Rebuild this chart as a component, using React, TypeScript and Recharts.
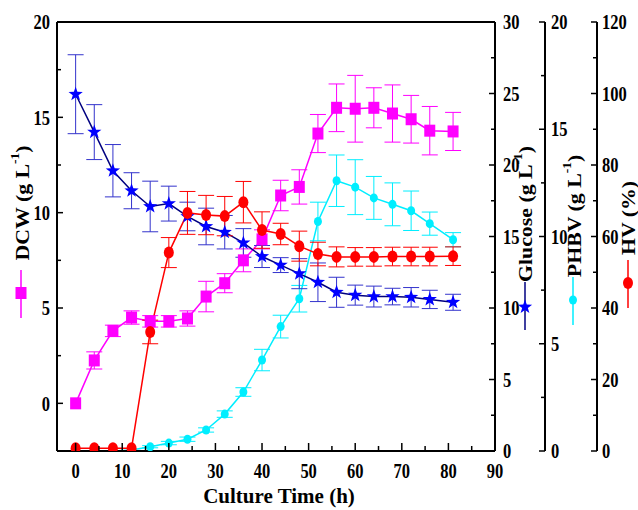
import React from "react";
import {
  ComposedChart,
  Line,
  XAxis,
  YAxis,
  ErrorBar,
  ReferenceLine,
} from "recharts";

const times = [0, 4, 8, 12, 16, 20, 24, 28, 32, 36, 40, 44, 48, 52, 56, 60, 64, 68, 72, 76, 81];
const dcw = [0, 2.25, 3.8, 4.5, 4.3, 4.3, 4.45, 5.6, 6.3, 7.5, 8.6, 10.9, 11.35, 14.15, 15.5, 15.45, 15.5, 15.2, 14.9, 14.3, 14.26];
const dcwErr = [0, 0.45, 0.3, 0.35, 0.3, 0.3, 0.4, 0.8, 0.5, 0.6, 0.5, 0.8, 0.9, 1.0, 1.25, 1.75, 1.05, 1.5, 1.25, 1.27, 1.0];
const glucose = [24.95, 22.3, 19.6, 18.2, 17.1, 17.3, 16.4, 15.7, 15.3, 14.55, 13.6, 13.0, 12.4, 11.8, 11.1, 10.9, 10.8, 10.8, 10.75, 10.6, 10.4];
const glucoseErr = [2.76, 1.92, 1.83, 1.26, 1.77, 1.22, 1.0, 1.28, 1.17, 1.0, 0.77, 0.52, 1.05, 1.35, 1.05, 0.7, 0.73, 0.58, 0.68, 0.64, 0.56];
const phbv = [0, 0, 0, 0.05, 0.2, 0.37, 0.55, 0.98, 1.72, 2.75, 4.24, 5.8, 7.1, 10.7, 12.6, 12.3, 11.8, 11.5, 11.2, 10.6, 9.85];
const phbvErr = [0, 0, 0, 0, 0.05, 0.08, 0.1, 0.1, 0.15, 0.2, 0.5, 0.53, 0.62, 0.9, 1.2, 1.28, 1.0, 1.0, 0.92, 0.54, 0.33];
const hv = [0.8, 0.8, 0.8, 0.8, 33.3, 55.5, 66.6, 66, 65.7, 69.6, 61.8, 60.7, 57.3, 55.1, 54.3, 54.3, 54.3, 54.4, 54.4, 54.4, 54.5];
const hvErr = [0, 0, 0, 0, 3.3, 4.2, 6.0, 5.5, 5.5, 5.8, 5.1, 3.0, 4.2, 3.3, 2.8, 2.6, 2.6, 2.6, 2.6, 2.6, 2.6];

const xTicks = [0, 5, 10, 15, 20, 25, 30, 35, 40, 45, 50, 55, 60, 65, 70, 75, 80, 85, 90];
const dcwTicks = [0, 2.5, 5, 7.5, 10, 12.5, 15, 17.5, 20];
const glucoseTicks = [0, 2.5, 5, 7.5, 10, 12.5, 15, 17.5, 20, 22.5, 25, 27.5, 30];
const phbvTicks = [0, 2.5, 5, 7.5, 10, 12.5, 15, 17.5, 20];
const hvTicks = [0, 10, 20, 30, 40, 50, 60, 70, 80, 90, 100, 110, 120];

const rows = times.map((t, i) => ({
  t,
  dcw: dcw[i],
  dcwErr: dcwErr[i],
  glucose: glucose[i],
  glucoseErr: glucoseErr[i],
  phbv: phbv[i],
  phbvErr: phbvErr[i],
  hv: hv[i],
  hvErr: hvErr[i],
}));

const FONT = "Liberation Serif";
const MAGENTA = "#ff00ff";
const BLUE = "#0000ff";
const NAVY = "#000080";
const CYAN = "#00eeff";
const RED = "#ff0000";

const TickLabel = ({ x, y, anchor, children }: any) => (
  <text
    transform={`translate(${x},${y}) scale(1,1.25)`}
    textAnchor={anchor}
    dominantBaseline="central"
    fontFamily={FONT}
    fontWeight="bold"
    fontSize={16.5}
    fill="#000"
  >
    {children}
  </text>
);

const bottomTick = (props: any) => {
  const { x, y, payload } = props;
  const v = payload.value;
  const major = v % 10 === 0;
  return (
    <g>
      <line x1={x} y1={y} x2={x} y2={y - (major ? 8 : 5)} stroke="#000" strokeWidth={1.5} />
      {major && (
        <TickLabel x={x} y={y + 20} anchor="middle">
          {v}
        </TickLabel>
      )}
    </g>
  );
};

const leftTick = (props: any) => {
  const { x, y, payload } = props;
  const v = payload.value;
  const major = v % 5 === 0;
  return (
    <g>
      <line x1={x} y1={y} x2={x + (major ? 6 : 4)} y2={y} stroke="#000" strokeWidth={1.5} />
      {major && (
        <TickLabel x={x - 7} y={y} anchor="end">
          {v}
        </TickLabel>
      )}
    </g>
  );
};

const rightTick = (step: number, gap: number) => (props: any) => {
  const { x, y, payload } = props;
  const v = payload.value;
  const major = v % step === 0;
  return (
    <g>
      <line x1={x} y1={y} x2={x - (major ? 6 : 4)} y2={y} stroke="#000" strokeWidth={1.5} />
      {major && (
        <TickLabel x={x + gap} y={y} anchor="start">
          {v}
        </TickLabel>
      )}
    </g>
  );
};

const starPoints = (cx: number, cy: number, ro: number, ri: number) => {
  const pts: string[] = [];
  for (let k = 0; k < 10; k++) {
    const r = k % 2 === 0 ? ro : ri;
    const a = -Math.PI / 2 + (k * Math.PI) / 5;
    pts.push(`${cx + r * Math.cos(a)},${cy + r * Math.sin(a)}`);
  }
  return pts.join(" ");
};

const squareDot = (p: any) => (
  <rect key={`sq${p.index}`} x={p.cx - 5.5} y={p.cy - 6} width={11} height={12} fill={MAGENTA} />
);
const starDot = (p: any) => (
  <polygon key={`st${p.index}`} points={starPoints(p.cx, p.cy, 7.5, 3)} fill={BLUE} />
);
const cyanDot = (p: any) => (
  <ellipse key={`cy${p.index}`} cx={p.cx} cy={p.cy} rx={4} ry={4.5} fill={CYAN} />
);
const redDot = (p: any) => (
  <ellipse key={`rd${p.index}`} cx={p.cx} cy={p.cy} rx={5} ry={6} fill={RED} />
);

// rotated axis title with a superscript part
const SideTitle = ({ x, y, main, sup, tail }: { x: number; y: number; main: string; sup?: string; tail?: string }) => (
  <text
    transform={`translate(${x},${y}) rotate(-90) scale(1.12,1)`}
    textAnchor="middle"
    dominantBaseline="central"
    fontFamily={FONT}
    fontWeight="bold"
    fontSize={19.5}
    fill="#000"
  >
    {main}
    {sup && (
      <tspan fontSize={12} dy={-7}>
        {sup}
      </tspan>
    )}
    {sup && <tspan dy={7}>{tail}</tspan>}
  </text>
);

export default function App() {
  return (
    <div style={{ position: "absolute", left: 0, top: 0 }}>
      <ComposedChart
        width={638}
        height={510}
        data={rows}
        margin={{ top: 22, right: 0, bottom: 0, left: 0 }}
      >
        <XAxis
          dataKey="t"
          type="number"
          domain={[-4, 90]}
          ticks={xTicks}
          interval={0}
          height={59}
          tickSize={0}
          tickMargin={0}
          tickLine={false}
          tick={bottomTick}
          axisLine={{ stroke: "#000", strokeWidth: 2 }}
        />
        <YAxis
          yAxisId="dcw"
          orientation="left"
          width={57}
          domain={[-2.5, 20]}
          ticks={dcwTicks}
          interval={0}
          tickSize={0}
          tickMargin={0}
          tickLine={false}
          tick={leftTick}
          axisLine={{ stroke: "#000", strokeWidth: 2 }}
          allowDataOverflow
        />
        <YAxis
          yAxisId="r1"
          orientation="right"
          width={50}
          domain={[0, 30]}
          ticks={glucoseTicks}
          interval={0}
          tickSize={0}
          tickMargin={0}
          tickLine={false}
          tick={rightTick(5, 8)}
          axisLine={{ stroke: "#000", strokeWidth: 2 }}
          allowDataOverflow
        />
        <YAxis
          yAxisId="r2"
          orientation="right"
          width={52}
          domain={[0, 20]}
          ticks={phbvTicks}
          interval={0}
          tickSize={0}
          tickMargin={0}
          tickLine={false}
          tick={rightTick(5, 6)}
          axisLine={{ stroke: "#000", strokeWidth: 2 }}
          allowDataOverflow
        />
        <YAxis
          yAxisId="r3"
          orientation="right"
          width={41}
          domain={[0, 120]}
          ticks={hvTicks}
          interval={0}
          tickSize={0}
          tickMargin={0}
          tickLine={false}
          tick={rightTick(20, 5)}
          axisLine={{ stroke: "#000", strokeWidth: 2 }}
          allowDataOverflow
        />
        <ReferenceLine yAxisId="dcw" y={20} stroke="#000" strokeWidth={2} />

        <Line
          yAxisId="dcw"
          dataKey="dcw"
          type="linear"
          stroke={MAGENTA}
          strokeWidth={1.5}
          dot={squareDot}
          activeDot={false}
          isAnimationActive={false}
        >
          <ErrorBar dataKey="dcwErr" width={8} stroke={MAGENTA} strokeWidth={1} direction="y" />
        </Line>
        <Line
          yAxisId="r2"
          dataKey="phbv"
          type="linear"
          stroke={CYAN}
          strokeWidth={1.5}
          dot={cyanDot}
          activeDot={false}
          isAnimationActive={false}
        >
          <ErrorBar dataKey="phbvErr" width={8} stroke={CYAN} strokeWidth={1} direction="y" />
        </Line>
        <Line
          yAxisId="r1"
          dataKey="glucose"
          type="linear"
          stroke={NAVY}
          strokeWidth={1.5}
          dot={starDot}
          activeDot={false}
          isAnimationActive={false}
        >
          <ErrorBar dataKey="glucoseErr" width={8} stroke="#3333cc" strokeWidth={1} direction="y" />
        </Line>
        <Line
          yAxisId="r3"
          dataKey="hv"
          type="linear"
          stroke={RED}
          strokeWidth={1.5}
          dot={redDot}
          activeDot={false}
          isAnimationActive={false}
        >
          <ErrorBar dataKey="hvErr" width={8} stroke={RED} strokeWidth={1} direction="y" />
        </Line>

        <text
          x={279}
          y={503}
          textAnchor="middle"
          fontFamily={FONT}
          fontWeight="bold"
          fontSize={21}
          fill="#000"
        >
          Culture Time (h)
        </text>

        <SideTitle x={22} y={203} main="DCW (g L" sup="-1" tail=")" />
        <SideTitle x={525} y={214} main="Glucose (g L" sup="-1" tail=")" />
        <SideTitle x={574} y={216} main="PHBV (g L" sup="-1" tail=")" />
        <SideTitle x={628} y={218} main="HV (%)" />

        {/* series keys under the axis titles */}
        <g>
          <line x1={21} y1={270} x2={21} y2={318} stroke={MAGENTA} strokeWidth={1.5} />
          <rect x={15.5} y={287} width={11} height={12} fill={MAGENTA} />
          <line x1={525} y1={282} x2={525} y2={330} stroke={NAVY} strokeWidth={1.5} />
          <polygon points={starPoints(525, 307, 7.5, 3)} fill={BLUE} />
          <line x1={573} y1={277} x2={573} y2={325} stroke={CYAN} strokeWidth={1.5} />
          <ellipse cx={573} cy={300} rx={4} ry={4.5} fill={CYAN} />
          <line x1={628} y1={260} x2={628} y2={308} stroke={RED} strokeWidth={1.5} />
          <ellipse cx={628} cy={283} rx={5} ry={6} fill={RED} />
        </g>
      </ComposedChart>
    </div>
  );
}
